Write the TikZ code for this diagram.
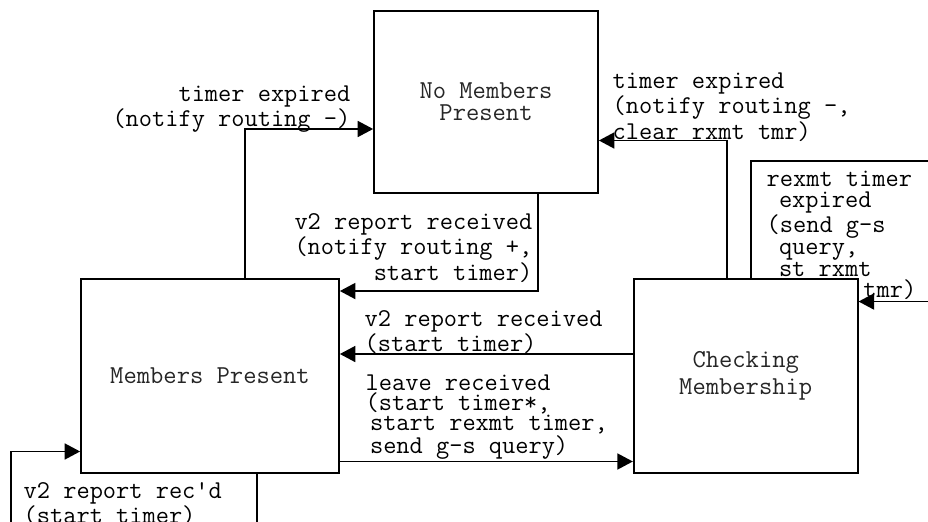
\documentclass[tikz,border=0pt]{standalone}
\usepackage{fontspec}
\usetikzlibrary{arrows.meta, positioning}

\begin{document}
\begin{tikzpicture}[x=0.02cm, y=-0.02cm, thick]

\tikzstyle{state} = [rectangle, draw, line width=1pt, inner sep=0pt, text=black!85, font=\ttfamily\fontsize{14.7}{12.6}\selectfont]
\tikzstyle{trans} = [draw, line width=1pt, -{Triangle[length=0.31cm, width=0.32cm]}]
\tikzstyle{event} = [inner sep=0pt, align=left, font=\ttfamily\addfontfeature{FakeBold=1}\fontsize{14.6}{11.3}\selectfont]

\useasboundingbox (0,0) rectangle (928,521);
\clip (0,0) rectangle (928,521);

% Nodes
\node[state, minimum width=4.48cm, minimum height=3.64cm, align=center] (none) at (486,102) {No Members\\Present};
\node[state, minimum width=5.16cm, minimum height=3.88cm] (members) at (210,376) {Members Present};
\node[state, minimum width=4.48cm, minimum height=3.88cm, align=center, font=\ttfamily\fontsize{14.7}{15.5}\selectfont] (checking) at (745.7,376) {Checking\\Membership};

% Free ends of the self loops
\coordinate (rexmtR) at (960,161);
\coordinate (recdB) at (11,545);

% Connections
\draw[trans] ([xshift=0.7cm]members.north) |- ([yshift=-0.54cm]none.west);
\draw[trans] ([xshift=1.04cm]none.south) |- ([yshift=1.7cm]members.east);
\draw[trans] ([xshift=-0.37cm]checking.north) |- ([yshift=-0.77cm]none.east);
\draw[trans] ([xshift=0.1cm]checking.north) |- (rexmtR) |- ([yshift=1.49cm]checking.east);
\draw[trans] ([yshift=0.44cm]checking.west) -- ([yshift=0.44cm]members.east);
\draw[trans] ([yshift=-1.71cm]members.east) -- ([yshift=-1.71cm]checking.west);
\draw[trans] ([xshift=0.94cm]members.south) |- (recdB) |- ([yshift=-1.51cm]members.west);

% Labels
\node[event, anchor=north east, align=right] (expLbl) at (351,85) {timer expired\\(notify routing -)};
\node[event, anchor=north east, align=right] (joinLbl) at (533,213) {v2 report received\\(notify routing +,\\start timer)};
\node[event, anchor=north west] (clearLbl) at (612,72) {timer expired\\(notify routing -,\\clear rxmt tmr)};
\node[event, anchor=north west, font=\ttfamily\addfontfeature{FakeBold=1}\fontsize{14.6}{12.3}\selectfont] (rexmtLbl) at (766,170) {rexmt timer\\\hspace*{0.48em}expired\\(send g-s\\\hspace*{0.48em}query,\\\hspace*{0.48em}st rxmt\\\hspace*{3.77em}tmr)};
\node[event, anchor=north west] (reportLbl) at (364,310) {v2 report received\\(start timer)};
\node[event, anchor=north west] (leaveLbl) at (365,374) {leave received\\(start timer*,\\\hspace*{0.17em}start rexmt timer,\\\hspace*{0.17em}send g-s query)};
\node[event, anchor=north west] (recdLbl) at (23,482) {v2 report rec\textquotesingle d\\(start timer)};

\end{tikzpicture}
\end{document}
